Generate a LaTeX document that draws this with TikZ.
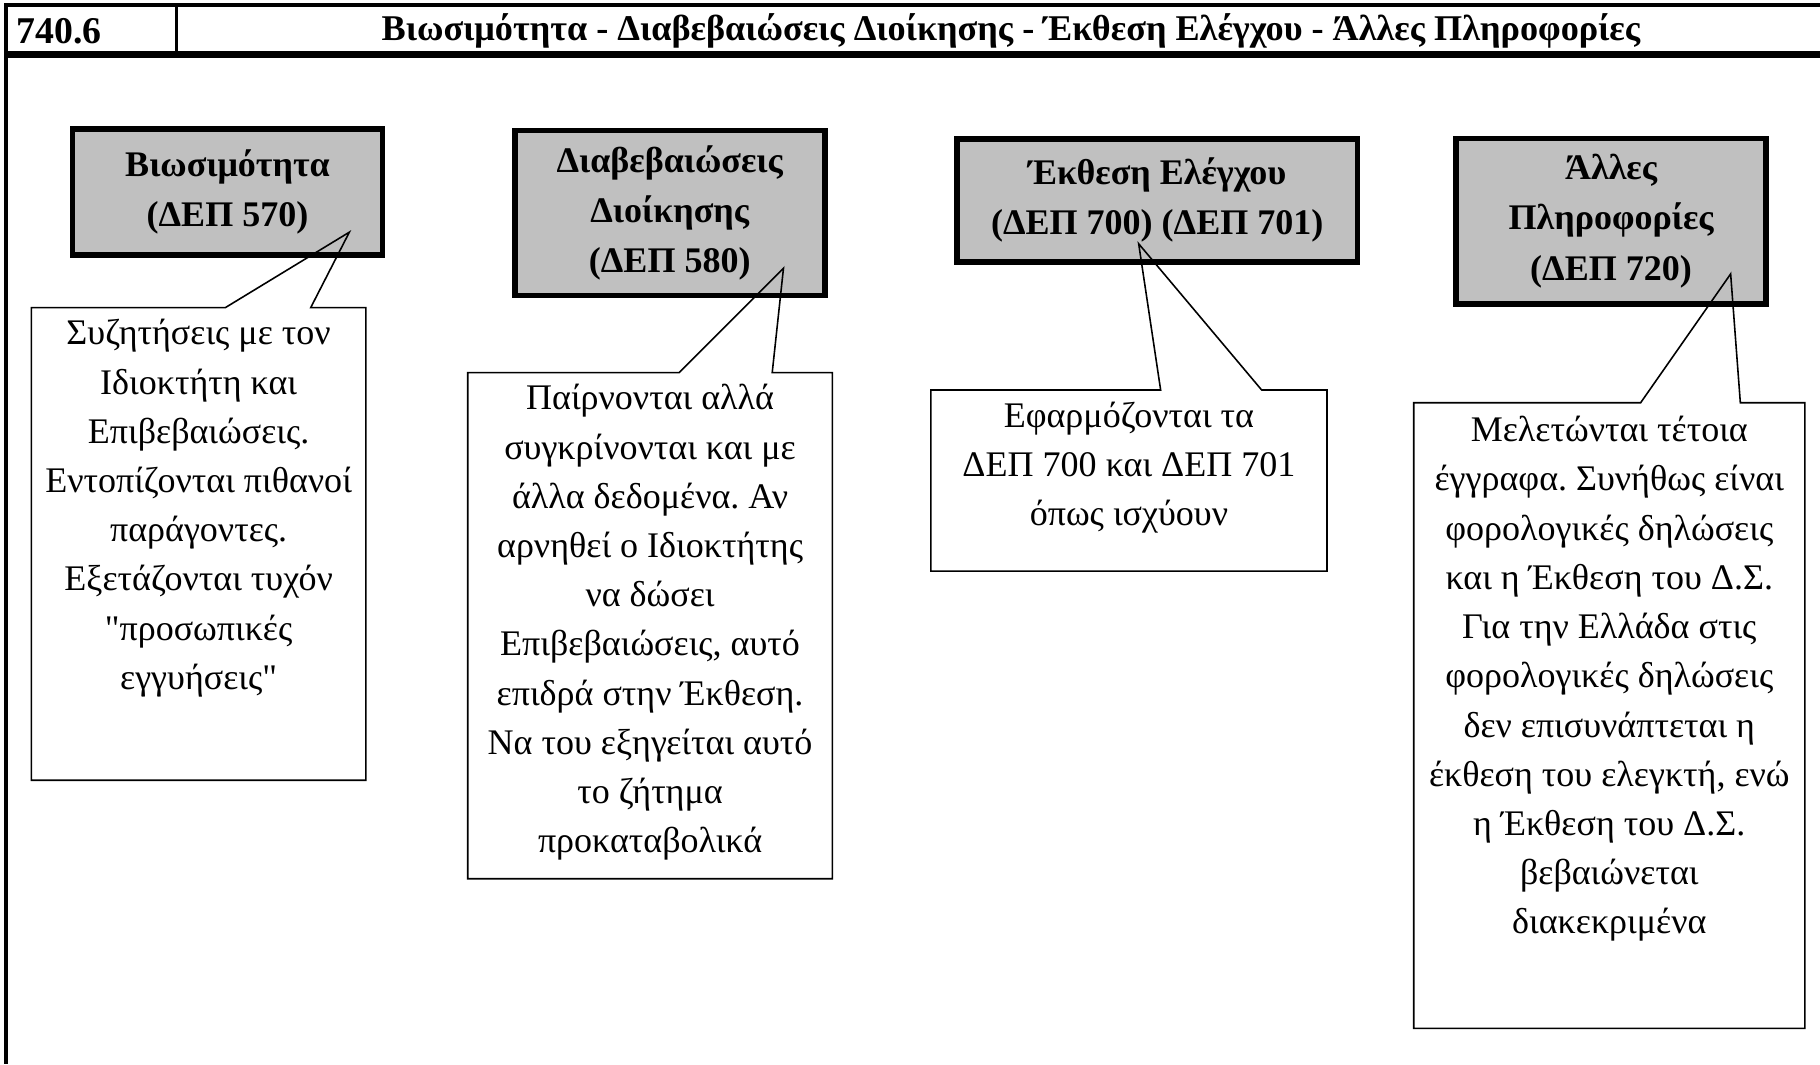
\documentclass[tikz,border=0pt]{standalone}
\usepackage{fontspec}
\setmainfont{Liberation Serif}[Ligatures=TeXOff]
\usepackage{xcolor}
\usepackage{tikz}
\usetikzlibrary{positioning,calc}
\definecolor{BoxGray}{RGB}{192,192,192}
\frenchspacing
\begin{document}
\begin{tikzpicture}[x=0.023214cm,y=-0.023214cm,font=\fontsize{20.5}{28}\selectfont,
  head/.style={draw=black,line width=3.3pt,fill=BoxGray,align=center,inner sep=0pt,outer sep=0pt,
               font=\fontsize{20.5}{28.5}\selectfont\bfseries},
  note/.style={inner sep=0pt,outer sep=0pt},
  notetext/.style={align=center,inner sep=0pt},
  noteline/.style={draw=black,line width=0.9pt,line join=miter}]
  \useasboundingbox (0,0) rectangle (1568,917);
  % frame and header row
  \draw[line width=2.2pt] (1568,4) -- (5,4) -- (5,917);
  \draw[line width=3.5pt] (5,47) -- (1568,47);
  \draw[line width=1.6pt] (152,4) -- (152,47);
  \node[anchor=west,font=\fontsize{21.5}{24}\selectfont\bfseries] (num) at (9,27) {740.6};
  \node[font=\fontsize{20.6}{24}\selectfont\bfseries] (title) at (871,27)
    {Βιωσιμότητα - Διαβεβαιώσεις Διοίκησης - Έκθεση Ελέγχου - Άλλες Πληροφορίες};
  % gray headings
  \node[head,minimum width=6.20cm,minimum height=2.51cm] (b1) at (196,165.5) {Βιωσιμότητα\\(ΔΕΠ 570)};
  \node[head,minimum width=6.20cm,minimum height=3.30cm] (b2) at (577,183.5) {Διαβεβαιώσεις\\Διοίκησης\\(ΔΕΠ 580)};
  \node[head,minimum width=8.01cm,minimum height=2.46cm] (b3) at (997,172.5) {Έκθεση Ελέγχου\\(ΔΕΠ 700) (ΔΕΠ 701)};
  \node[head,minimum width=6.20cm,minimum height=3.30cm] (b4) at (1388,190.5) {Άλλες\\Πληροφορίες\\(ΔΕΠ 720)};
  % callout frames
  \foreach \i/\x/\y/\w/\h in {1/27/265/6.69/9.45,2/403/321/7.29/10.12,3/802/336/7.92/3.62,4/1218/347/7.82/12.51}
    \node[note,anchor=north west,minimum width=\w cm,minimum height=\h cm] (c\i) at (\x,\y) {};
  \coordinate (p1) at (301,200);
  \coordinate (p2) at (675,231);
  \coordinate (p3) at (981,210);
  \coordinate (p4) at (1491,236);
  \foreach \i in {1,...,4}
    \draw[noteline] ($(c\i.north west)!0.58!(c\i.north east)$) -- (p\i)
      -- ($(c\i.north west)!0.835!(c\i.north east)$) -- (c\i.north east) -- (c\i.south east)
      -- (c\i.south west) -- (c\i.north west) -- cycle;
  % callout texts
  \node[notetext,below=6.5pt of c1.north] (t1) {Συζητήσεις με τον\\Ιδιοκτήτη και\\Επιβεβαιώσεις.\\Εντοπίζονται πιθανοί\\παράγοντες.\\Εξετάζονται τυχόν\\"προσωπικές\\εγγυήσεις"};
  \node[notetext,below=6.5pt of c2.north] (t2) {Παίρνονται αλλά\\συγκρίνονται και με\\άλλα δεδομένα. Αν\\αρνηθεί ο Ιδιοκτήτης\\να δώσει\\Επιβεβαιώσεις, αυτό\\επιδρά στην Έκθεση.\\Να του εξηγείται αυτό\\το ζήτημα\\προκαταβολικά};
  \node[notetext,below=6.5pt of c3.north] (t3) {Εφαρμόζονται τα\\ΔΕΠ 700 και ΔΕΠ 701\\όπως ισχύουν};
  \node[notetext,below=7.5pt of c4.north] (t4) {Μελετώνται τέτοια\\έγγραφα. Συνήθως είναι\\φορολογικές δηλώσεις\\και η Έκθεση του Δ.Σ.\\Για την Ελλάδα στις\\φορολογικές δηλώσεις\\δεν επισυνάπτεται η\\έκθεση του ελεγκτή, ενώ\\η Έκθεση του Δ.Σ.\\βεβαιώνεται\\διακεκριμένα};
\end{tikzpicture}
\end{document}
